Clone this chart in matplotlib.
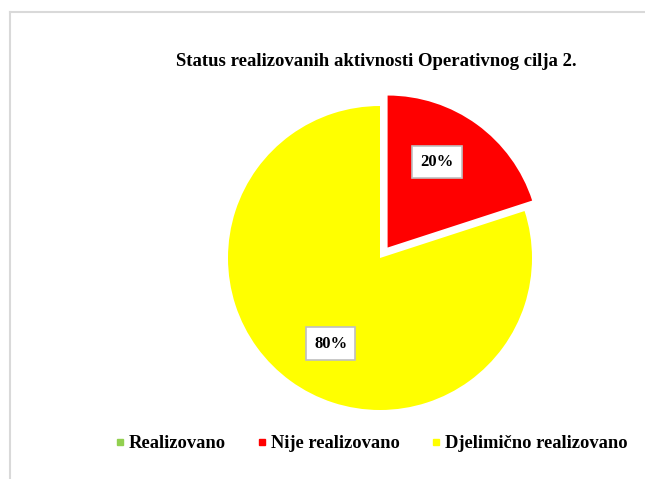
import numpy as np
import matplotlib.pyplot as plt
from matplotlib.lines import Line2D

# podaci
categories = ["Realizovano", "Nije realizovano", "Djelimično realizovano"]
values = [0, 20, 80]
colors = ["#92D050", "#FF0000", "#FFFF00"]
title = "Status realizovanih aktivnosti Operativnog cilja 2."

plt.rcParams['font.family'] = ['Liberation Serif', 'DejaVu Serif']
plt.rcParams['font.weight'] = 'bold'

W, H = 645, 479
fig = plt.figure(figsize=(W / 100, H / 100), dpi=100)

# siva okvirna linija (gornja i lijeva)
fig.add_artist(Line2D([10 / W, 10 / W], [0, 1 - 12 / H], color="#D9D9D9", lw=1.5))
fig.add_artist(Line2D([10 / W, 1], [1 - 12 / H, 1 - 12 / H], color="#D9D9D9", lw=1.5))

# pita
cx, cy, r = 380, H - 258, 152
lim = 1.2
half = lim * r
ax = fig.add_axes([(cx - half) / W, (cy - half) / H, 2 * half / W, 2 * half / H])


def fmt(p):
    return f"{p:.0f}%" if p > 0.5 else ""


explode = [0, 0.085, 0]
wedges, texts, autotexts = ax.pie(
    values, colors=colors, startangle=90, counterclock=False,
    explode=explode, autopct=fmt, pctdistance=0.64,
    textprops=dict(fontsize=12, fontweight="bold"),
)
# Excel "best fit" stavlja oznake malo zakrenute od simetrale
for w, t in zip(wedges, autotexts):
    ang = np.deg2rad((w.theta1 + w.theta2) / 2 + 6)
    x0, y0 = w.center
    t.set_position((x0 + 0.65 * np.cos(ang), y0 + 0.65 * np.sin(ang)))
    t.set_bbox(dict(boxstyle="square,pad=0.5", fc="white", ec="#BFBFBF", lw=1.2))
ax.set_xlim(-lim, lim)
ax.set_ylim(-lim, lim)
ax.set_aspect("equal")
ax.axis("off")

fig.text(376 / W, 1 - 61 / H, title, ha="center", va="center", fontsize=13.5, fontweight="bold")

handles = [Line2D([], [], marker="s", ls="none", color=c, markersize=4) for c in colors]
fig.legend(handles, categories, loc="center", bbox_to_anchor=(372 / W, 1 - 444 / H),
           ncol=3, frameon=False, handlelength=0.4, handletextpad=0.3,
           columnspacing=1.75, prop=dict(size=13.3, weight="bold"))

fig.savefig("out.png", dpi=100)
